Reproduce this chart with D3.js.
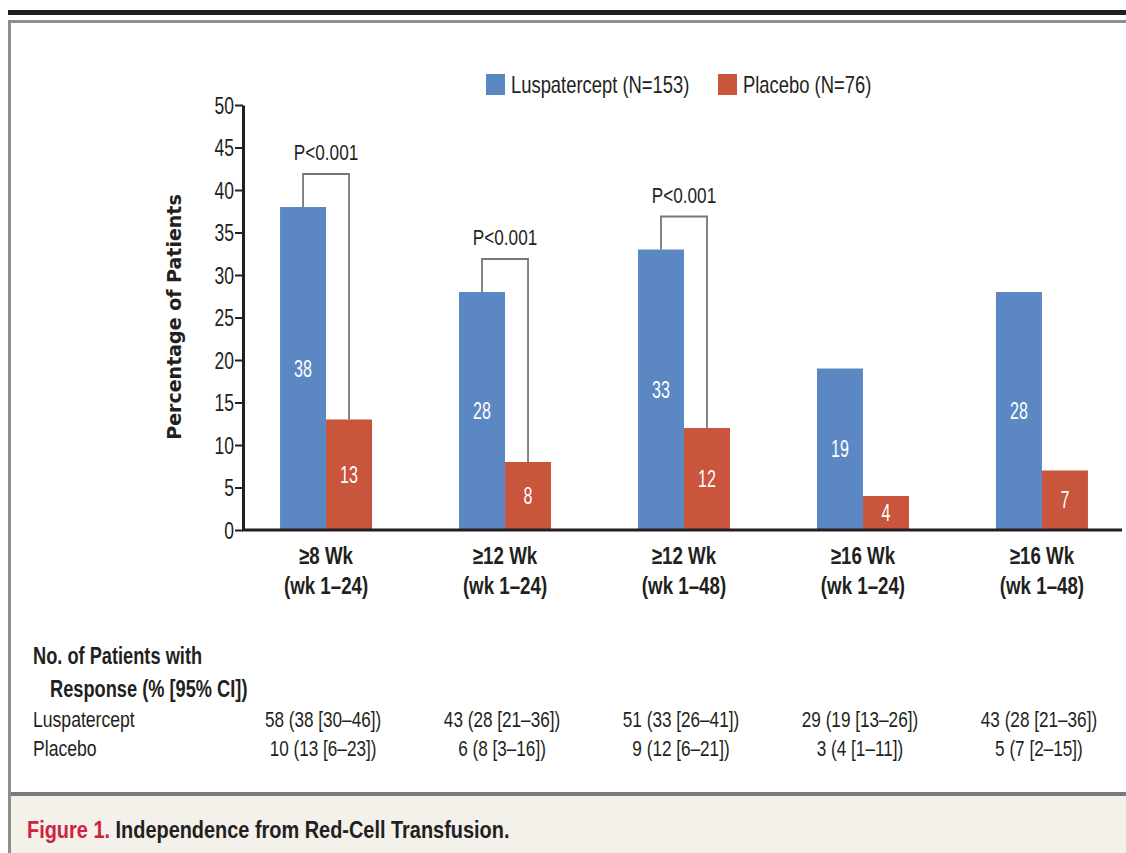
<!DOCTYPE html>
<html>
<head>
<meta charset="utf-8">
<script src="https://cdn.jsdelivr.net/npm/d3@7"></script>
<style>
  html, body { margin: 0; padding: 0; background: #ffffff; }
  svg { display: block; }
</style>
</head>
<body>
<svg id="chart" width="1126" height="853"></svg>
<script>
// Transfusion-independence endpoints (x-axis groups)
const categories = ["≥8 Wk|(wk 1–24)", "≥12 Wk|(wk 1–24)", "≥12 Wk|(wk 1–48)", "≥16 Wk|(wk 1–24)", "≥16 Wk|(wk 1–48)"];
const seriesNames = ["Luspatercept (N=153)", "Placebo (N=76)"];
// Percentage of patients with response
const luspaterceptValues = [38, 28, 33, 19, 28];
const placeboValues = [13, 8, 12, 4, 7];
// Significance annotations per group (null = none drawn)
const pLabels = ["P<0.001", "P<0.001", "P<0.001", null, null];
// Y tick values
const yTicks = [0, 5, 10, 15, 20, 25, 30, 35, 40, 45, 50];
// Table rows beneath the chart
const tableRowNames = ["Luspatercept", "Placebo"];
const luspaterceptCells = ["58 (38 [30–46])", "43 (28 [21–36])", "51 (33 [26–41])", "29 (19 [13–26])", "43 (28 [21–36])"];
const placeboCells = ["10 (13 [6–23])", "6 (8 [3–16])", "9 (12 [6–21])", "3 (4 [1–11])", "5 (7 [2–15])"];

const colors = ["#5b87c3", "#c8553c"];
const ink = "#231f20";
const sans = '"Liberation Sans", Arial, sans-serif';

const svg = d3.select("#chart");

// Condensed text: a sans face squeezed horizontally around its anchor point
function cond(sel, sx) {
  return sel.style("font-family", sans)
    .attr("transform", function (d, i) {
      const el = d3.select(this);
      const x = +el.attr("data-x") || 0, y = +el.attr("data-y") || 0;
      return `translate(${x},${y}) scale(${sx},1)`;
    });
}
function ctext(parent, x, y, str, size, sx, opts = {}) {
  const t = parent.append("text")
    .attr("transform", `translate(${x},${y}) scale(${sx},1)`)
    .attr("text-anchor", opts.anchor || "start")
    .attr("fill", opts.fill || ink)
    .style("font-family", sans)
    .style("font-size", size + "px")
    .style("font-weight", opts.bold ? "bold" : "normal");
  if (str !== null) t.text(str);
  return t;
}

// Page frame: rule at top, panel border, caption strip
svg.append("rect").attr("x", 8).attr("y", 10).attr("width", 1118).attr("height", 5).attr("fill", "#1f1f1f");
svg.append("rect").attr("x", 8).attr("y", 20).attr("width", 1118).attr("height", 3).attr("fill", "#8e8e8e");
svg.append("rect").attr("x", 8).attr("y", 20).attr("width", 3).attr("height", 833).attr("fill", "#8e8e8e");
svg.append("rect").attr("x", 11).attr("y", 796).attr("width", 1115).attr("height", 57).attr("fill", "#f4f0ea");
svg.append("rect").attr("x", 11).attr("y", 792).attr("width", 1115).attr("height", 4).attr("fill", "#7a7a7a");

// Scales
const y = d3.scaleLinear().domain([0, 50]).range([530, 105]);
const x0 = d3.scaleBand().domain(categories).range([243, 1125]).paddingInner(0.486).paddingOuter(0.207);
const x1 = d3.scaleBand().domain(seriesNames).range([0, x0.bandwidth()]);

const data = categories.map((c, i) => ({
  cat: c,
  values: [luspaterceptValues[i], placeboValues[i]],
  p: pLabels[i],
  cells: [luspaterceptCells[i], placeboCells[i]]
}));

// Bars
const groups = svg.append("g").selectAll("g").data(data).join("g")
  .attr("transform", d => `translate(${x0(d.cat)},0)`);

groups.selectAll("rect").data(d => d.values.map((v, k) => ({ v, k }))).join("rect")
  .attr("x", d => x1(seriesNames[d.k]))
  .attr("y", d => y(d.v))
  .attr("width", x1.bandwidth())
  .attr("height", d => y(0) - y(d.v))
  .attr("fill", d => colors[d.k]);

// Value labels inside bars
groups.selectAll("text.val").data(d => d.values.map((v, k) => ({ v, k }))).join("text")
  .attr("class", "val")
  .attr("data-x", d => x1(seriesNames[d.k]) + x1.bandwidth() / 2)
  .attr("data-y", d => (y(d.v) + y(0)) / 2 + 8)
  .attr("text-anchor", "middle")
  .attr("fill", "#ffffff")
  .style("font-size", "23px")
  .text(d => d.v)
  .call(cond, 0.7);

// Significance brackets
const sig = groups.filter(d => d.p);
sig.append("path")
  .attr("fill", "none")
  .attr("stroke", "#777777")
  .attr("stroke-width", 1.8)
  .attr("d", d => {
    const xa = x1(seriesNames[0]) + x1.bandwidth() / 2;
    const xb = x1(seriesNames[1]) + x1.bandwidth() / 2;
    const top = y(d.values[0]) - 33;
    return `M${xa},${y(d.values[0])}V${top}H${xb}V${y(d.values[1])}`;
  });
sig.append("text")
  .attr("data-x", x0.bandwidth() / 2)
  .attr("data-y", d => y(d.values[0]) - 47)
  .attr("text-anchor", "middle")
  .attr("fill", ink)
  .style("font-size", "22px")
  .text(d => d.p)
  .call(cond, 0.78);

// Y axis
const yAxis = svg.append("g")
  .attr("transform", "translate(243,0)")
  .call(d3.axisLeft(y).tickValues(yTicks).tickSize(8).tickSizeOuter(0));
yAxis.select(".domain").attr("stroke", ink).attr("stroke-width", 3);
yAxis.selectAll(".tick line").attr("stroke", ink).attr("stroke-width", 2);
yAxis.selectAll(".tick text")
  .attr("x", null).attr("dy", null)
  .attr("data-x", -9).attr("data-y", 8)
  .attr("fill", ink)
  .style("font-size", "23px")
  .call(cond, 0.76);

// X axis with two-line category labels
const xAxis = svg.append("g")
  .attr("transform", "translate(0,530)")
  .call(d3.axisBottom(x0).tickSize(0).tickSizeOuter(0).tickFormat(""));
xAxis.select(".domain").attr("stroke", ink).attr("stroke-width", 3).attr("d", "M242,0H1122");
xAxis.selectAll(".tick").each(function (d) {
  const parts = d.split("|");
  const g = d3.select(this);
  ctext(g, 0, 34, parts[0], 24, 0.78, { anchor: "middle", bold: true });
  ctext(g, 0, 64, parts[1], 24, 0.78, { anchor: "middle", bold: true });
});

// Y axis title
svg.append("text")
  .attr("transform", "translate(181,317) rotate(-90)")
  .attr("text-anchor", "middle")
  .attr("fill", ink)
  .style("font-family", '"DejaVu Sans", sans-serif')
  .style("font-size", "19px")
  .style("font-weight", "bold")
  .text("Percentage of Patients");

// Legend
const legendX = [486, 718];
const legend = svg.append("g");
seriesNames.forEach((name, i) => {
  legend.append("rect").attr("x", legendX[i]).attr("y", 74).attr("width", 19).attr("height", 21).attr("fill", colors[i]);
  ctext(legend, legendX[i] + 25, 93, name, 23, 0.8);
});

// Response table
const table = svg.append("g");
ctext(table, 33, 664, "No. of Patients with", 24, 0.76, { bold: true });
ctext(table, 50, 697, "Response (% [95% CI])", 24, 0.76, { bold: true });
tableRowNames.forEach((name, r) => {
  const yy = 727 + r * 29;
  ctext(table, 33, yy, name, 22, 0.8);
  table.selectAll(null).data(data).join("text")
    .attr("data-x", d => x0(d.cat) + x0.bandwidth() / 2 - 3)
    .attr("data-y", yy)
    .attr("text-anchor", "middle")
    .attr("fill", ink)
    .style("font-size", "22px")
    .text(d => d.cells[r])
    .call(cond, 0.78);
});

// Caption
const cap = ctext(svg, 27, 838, null, 24, 0.83, { bold: true });
cap.append("tspan").attr("fill", "#d0213d").text("Figure 1. ");
cap.append("tspan").attr("fill", ink).text("Independence from Red-Cell Transfusion.");
</script>
</body>
</html>
